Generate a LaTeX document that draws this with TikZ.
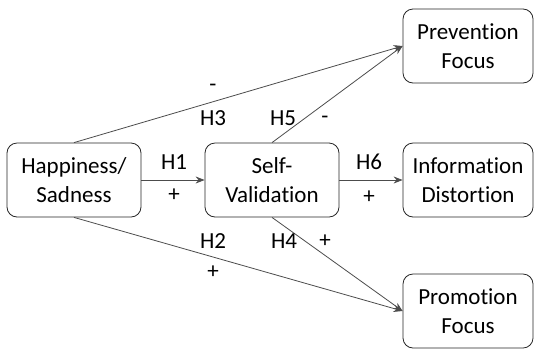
\documentclass[tikz,border=0pt]{standalone}
\usepackage{fontspec}
\setmainfont{Carlito}[Ligatures=NoCommon]
\usetikzlibrary{arrows.meta}
\begin{document}
\begin{tikzpicture}[x=1pt,y=-1pt,
  box/.style={draw=black!85,line width=0.8pt,rounded corners=10pt,minimum width=134pt,minimum height=74pt,align=center,font=\fontsize{23}{29}\selectfont,inner sep=0pt},
  conn/.style={draw=black!70,line width=0.8pt,-{Stealth[length=9pt,width=7pt,inset=3pt]}},
  lab/.style={font=\fontsize{23}{29}\selectfont,inner sep=0pt}]
\useasboundingbox (0,0) rectangle (534,349);
\node[box] (hs) at (74,180) {Happiness/\\Sadness};
\node[box] (sv) at (272,180) {Self-\\Validation};
\node[box,minimum width=130pt] (pf) at (468,46) {Prevention\\Focus};
\node[box,minimum width=130pt] (id) at (468,180) {Information\\Distortion};
\node[box,minimum width=130pt] (pr) at (468,311) {Promotion\\Focus};
\draw[conn] (hs.north) -- (pf.west);
\draw[conn] (hs.south) -- (pr.west);
\draw[conn] (hs.east) -- (sv.west);
\draw[conn] (sv.north) -- (pf.west);
\draw[conn] (sv.south) -- (pr.west);
\draw[conn] (sv.east) -- (id.west);
\node[lab] (m3) at (213,88) {-};
\node[lab] (h3) at (213,118) {H3};
\node[lab] (h5) at (283,118) {H5};
\node[lab] (m5) at (325,120) {-};
\node[lab] (h1) at (174,162) {H1};
\node[lab] (p1) at (174,195) {+};
\node[lab] (h6) at (369,162) {H6};
\node[lab] (p6) at (369,197) {+};
\node[lab] (h2) at (213,241) {H2};
\node[lab] (p2) at (213,272) {+};
\node[lab] (h4) at (284,241) {H4};
\node[lab] (p4) at (325,241) {+};
\end{tikzpicture}
\end{document}
